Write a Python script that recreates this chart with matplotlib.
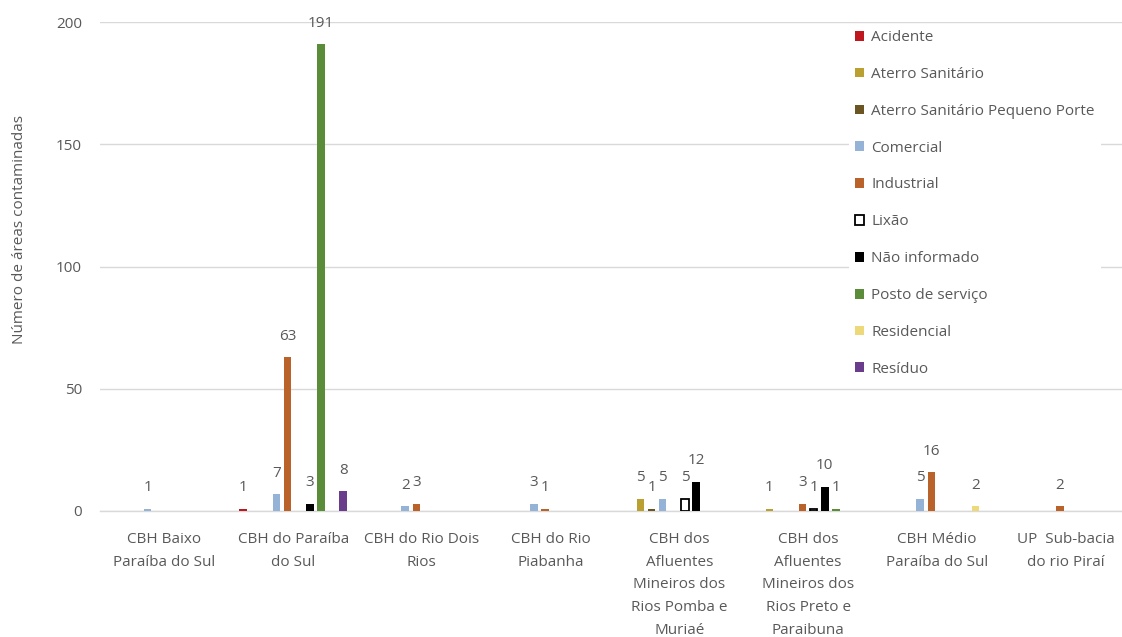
import numpy as np
import matplotlib
matplotlib.use("Agg")
import matplotlib.pyplot as plt

nan = np.nan

categories = [
    "CBH Baixo\nParaíba do Sul",
    "CBH do Paraíba\ndo Sul",
    "CBH do Rio Dois\nRios",
    "CBH do Rio\nPiabanha",
    "CBH dos\nAfluentes\nMineiros dos\nRios Pomba e\nMuriaé",
    "CBH dos\nAfluentes\nMineiros dos\nRios Preto e\nParaibuna",
    "CBH Médio\nParaíba do Sul",
    "UP  Sub-bacia\ndo rio Piraí",
]

series_names = [
    "Acidente",
    "Aterro Sanitário",
    "Aterro Sanitário Pequeno Porte",
    "Comercial",
    "Industrial",
    "Lixão",
    "Não informado",
    "Posto de serviço",
    "Residencial",
    "Resíduo",
]

acidente = [nan, 1, nan, nan, nan, nan, nan, nan]
aterro_sanitario = [nan, nan, nan, nan, 5, 1, nan, nan]
aterro_pequeno_porte = [nan, nan, nan, nan, 1, nan, nan, nan]
comercial = [1, 7, 2, 3, 5, nan, 5, nan]
industrial = [nan, 63, 3, 1, nan, 3, 16, 2]
lixao = [nan, nan, nan, nan, 5, 1, nan, nan]
nao_informado = [nan, 3, nan, nan, 12, 10, nan, nan]
posto_servico = [nan, 191, nan, nan, nan, 1, nan, nan]
residencial = [nan, nan, nan, nan, nan, nan, 2, nan]
residuo = [nan, 8, nan, nan, nan, nan, nan, nan]

series_values = [acidente, aterro_sanitario, aterro_pequeno_porte, comercial,
                 industrial, lixao, nao_informado, posto_servico, residencial,
                 residuo]

face_colors = ["#C0161E", "#B9A030", "#6B5522", "#95B3D7", "#B9632A",
               "#FFFFFF", "#000000", "#5B8C3A", "#EED97A", "#6A3D8C"]
edge_colors = ["none", "none", "none", "none", "none",
               "#000000", "none", "none", "none", "none"]

text_grey = "#595959"
grid_grey = "#D9D9D9"
fs = 11

plt.rcParams["font.family"] = ["Open Sans", "DejaVu Sans"]

fig = plt.figure(figsize=(11.22, 6.37), dpi=100)
W, H = 1122, 637
ax_left, ax_right = 100, 1130
ax_bottom, ax_top = 511, 22
ax = fig.add_axes([ax_left / W, 1 - ax_bottom / H,
                   (ax_right - ax_left) / W, (ax_bottom - ax_top) / H])

n_series = len(series_values)
slot = 0.0862
bar_w = 0.058
x = np.arange(len(categories))

handles = []
for i, (name, vals) in enumerate(zip(series_names, series_values)):
    vals = np.array(vals, dtype=float)
    pos = x + (i - (n_series - 1) / 2) * slot
    lw = 1.3 if edge_colors[i] != "none" else 0
    bars = ax.bar(pos, vals, width=bar_w, color=face_colors[i],
                  edgecolor=edge_colors[i], linewidth=lw, label=name, zorder=3)
    handles.append(bars)
    for xp, v in zip(pos, vals):
        if np.isnan(v):
            continue
        ax.annotate(f"{int(v)}", (xp, v), xytext=(0, 15),
                    textcoords="offset points", ha="center", va="center",
                    fontsize=fs, color=text_grey, zorder=4,
                    annotation_clip=False)

ax.set_xlim(-0.5, len(categories) - 0.5)
ax.set_ylim(0, 200)
ax.set_yticks([0, 50, 100, 150, 200])
ax.set_xticks(x)
ax.set_xticklabels(categories, linespacing=1.7)
ax.tick_params(axis="both", length=0, colors=text_grey, labelsize=fs)
ax.tick_params(axis="y", pad=13)
ax.tick_params(axis="x", pad=15)
for lab in ax.get_xticklabels():
    lab.set_verticalalignment("top")

ax.yaxis.grid(True, color=grid_grey, linewidth=1.0, zorder=0)
ax.set_axisbelow(True)
for side in ("top", "right", "left"):
    ax.spines[side].set_visible(False)
ax.spines["bottom"].set_color(grid_grey)
ax.spines["bottom"].set_linewidth(1.0)

fig.text(20 / W, 1 - 230 / H, "Número de áreas contaminadas",
         rotation=90, ha="center", va="center", fontsize=fs,
         color=text_grey)

leg = ax.legend(handles=handles, loc="upper left",
                bbox_to_anchor=(849 / W, 1 - 24 / H),
                bbox_transform=fig.transFigure, frameon=True,
                facecolor="white", edgecolor="none", framealpha=1,
                fontsize=fs, labelspacing=1.43, handlelength=0.6,
                handleheight=0.6, handletextpad=0.45, borderpad=0.4,
                borderaxespad=0)
for t in leg.get_texts():
    t.set_color(text_grey)
leg.set_zorder(5)

fig.savefig("out.png", dpi=100)
